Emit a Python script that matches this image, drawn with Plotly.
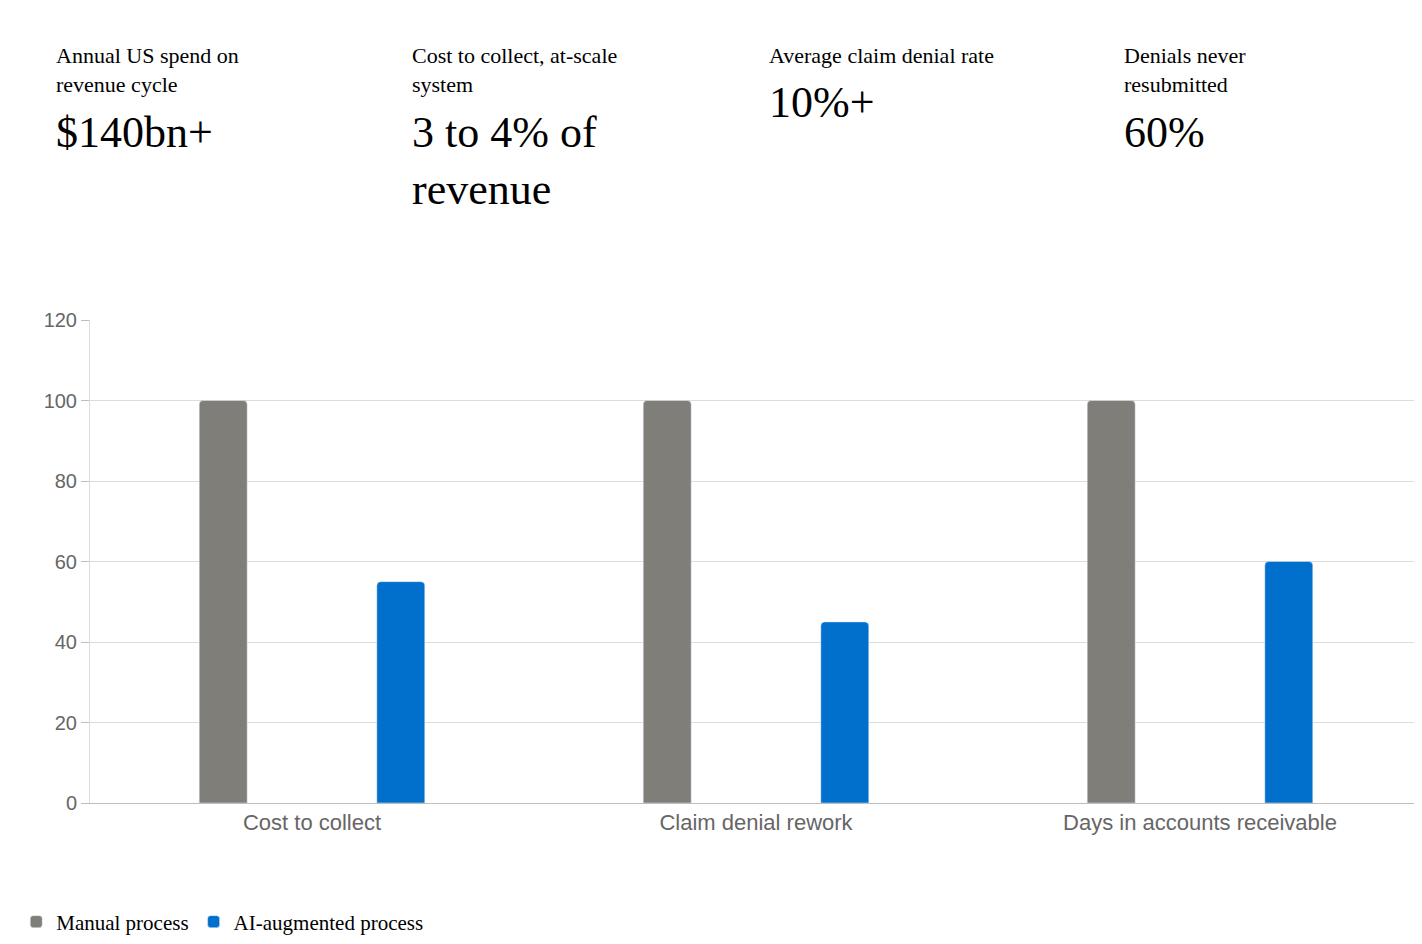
import plotly.graph_objects as go

# chart data
categories = ["Cost to collect", "Claim denial rework", "Days in accounts receivable"]
manual_values = [100, 100, 100]
ai_values = [55, 45, 60]

# KPI header texts
kpi_labels = ["Annual US spend on<br>revenue cycle", "Cost to collect, at-scale<br>system",
              "Average claim denial rate", "Denials never<br>resubmitted"]
kpi_values = ["$140bn+", "3 to 4% of<br>revenue", "10%+", "60%"]
kpi_label_lines = [2, 2, 1, 2]

W, H = 1422, 944
L, R, T, B = 78, 8, 312, 149
PW, PH = W - L - R, H - T - B

def px_x(p):
    return (p - L) / PW

def px_y(p):
    return (H - B - p) / PH

serif = "Liberation Serif, Times New Roman, serif"
sans = "Liberation Sans, Arial, sans-serif"

fig = go.Figure()
fig.add_trace(go.Bar(x=categories, y=manual_values, name="Manual process",
                     marker=dict(color="#7f7e79", cornerradius=4),
                     width=0.108, offset=-0.254))
fig.add_trace(go.Bar(x=categories, y=ai_values, name="AI-augmented process",
                     marker=dict(color="#0070cc", cornerradius=4),
                     width=0.108, offset=0.146))

col_x = [42, 399, 757, 1113]
for cx, lab, val, n in zip(col_x, kpi_labels, kpi_values, kpi_label_lines):
    fig.add_annotation(text=lab, x=px_x(cx), y=px_y(33), xref="paper", yref="paper",
                       xanchor="left", yanchor="top", showarrow=False, align="left",
                       font=dict(family=serif, size=22, color="#000"))
    top = 98 if n == 2 else 68
    fig.add_annotation(text=val, x=px_x(cx), y=px_y(top), xref="paper", yref="paper",
                       xanchor="left", yanchor="top", showarrow=False, align="left",
                       font=dict(family=serif, size=44, color="#000"))

fig.update_layout(
    width=W, height=H,
    margin=dict(l=L, r=R, t=T, b=B),
    plot_bgcolor="white", paper_bgcolor="white",
    barmode="overlay",
    showlegend=True,
    legend=dict(orientation="h", x=px_x(4), y=px_y(914), xanchor="left", yanchor="middle",
                font=dict(family=serif, size=21, color="#000"), itemwidth=30),
)
fig.update_xaxes(showline=True, linecolor="#bdbdbd", ticks="", showgrid=False,
                 tickfont=dict(family=sans, size=22, color="#666"))
fig.update_yaxes(range=[0, 120], dtick=20, showgrid=True, gridcolor="#dcdcdc",
                 zeroline=False, ticks="outside", ticklen=8, tickcolor="#bdbdbd",
                 showline=True, linecolor="#dcdcdc",
                 tickfont=dict(family=sans, size=20, color="#666"))

fig.write_html("out.html")
